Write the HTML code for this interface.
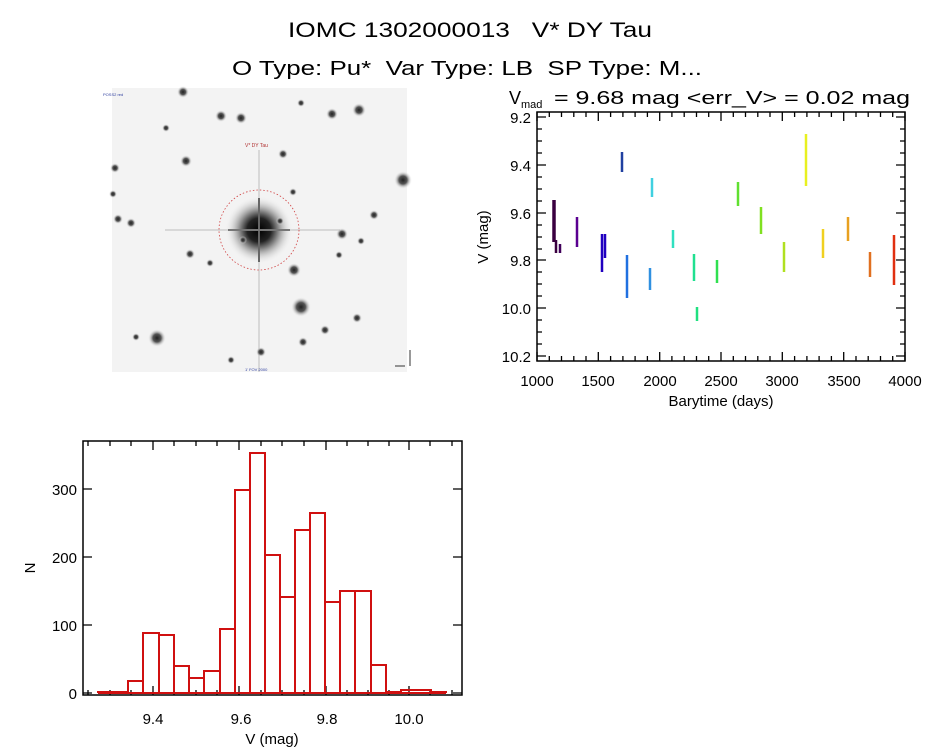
<!DOCTYPE html>
<html><head><meta charset="utf-8"><style>
html,body{margin:0;padding:0;background:#fff;}
svg{display:block;font-family:"Liberation Sans",sans-serif;}
text{white-space:pre;}
</style></head><body>
<svg width="944" height="747" viewBox="0 0 944 747" xmlns="http://www.w3.org/2000/svg" xml:space="preserve">
<defs>
<radialGradient id="st"><stop offset="0" stop-color="#222"/><stop offset="0.45" stop-color="#555"/><stop offset="1" stop-color="#f4f4f4" stop-opacity="0"/></radialGradient>
<radialGradient id="big"><stop offset="0" stop-color="#000"/><stop offset="0.35" stop-color="#222"/><stop offset="0.6" stop-color="#999"/><stop offset="1" stop-color="#f4f4f4" stop-opacity="0"/></radialGradient>
</defs>
<text x="470" y="37" font-size="21" text-anchor="middle" textLength="364" lengthAdjust="spacingAndGlyphs">IOMC 1302000013   V* DY Tau</text>
<text x="467" y="75" font-size="20" text-anchor="middle" textLength="470" lengthAdjust="spacingAndGlyphs">O Type: Pu*  Var Type: LB  SP Type: M...</text>

<!-- image -->
<rect x="112" y="88" width="295" height="284" fill="#f3f3f3"/>
<line x1="259" y1="150" x2="259" y2="372" stroke="#d8d8d8" stroke-width="2"/>
<line x1="165" y1="230" x2="340" y2="230" stroke="#d8d8d8" stroke-width="2"/>
<circle cx="259" cy="230" r="34" fill="url(#big)"/>
<line x1="259" y1="198" x2="259" y2="262" stroke="#666" stroke-width="2"/>
<line x1="228" y1="230" x2="290" y2="230" stroke="#777" stroke-width="2"/>
<circle cx="259" cy="230" r="40" fill="none" stroke="#d04040" stroke-width="0.8" stroke-dasharray="1.5,2"/>
<text x="245" y="147" font-size="5" fill="#b03030">V* DY Tau</text>
<g fill="url(#st)">
<circle cx="183" cy="92" r="6"/><circle cx="221" cy="116" r="6"/><circle cx="241" cy="118" r="6"/>
<circle cx="332" cy="114" r="6"/><circle cx="359" cy="110" r="7"/><circle cx="301" cy="103" r="4"/>
<circle cx="166" cy="128" r="4"/><circle cx="283" cy="154" r="5"/><circle cx="186" cy="161" r="6"/>
<circle cx="115" cy="168" r="5"/><circle cx="403" cy="180" r="9"/><circle cx="113" cy="194" r="4"/>
<circle cx="293" cy="192" r="4"/><circle cx="118" cy="219" r="5"/><circle cx="131" cy="223" r="5"/>
<circle cx="374" cy="215" r="5"/><circle cx="342" cy="234" r="6"/><circle cx="361" cy="241" r="4"/>
<circle cx="190" cy="254" r="5"/><circle cx="210" cy="263" r="4"/><circle cx="294" cy="270" r="7"/>
<circle cx="339" cy="255" r="4"/><circle cx="301" cy="307" r="10"/><circle cx="357" cy="318" r="5"/>
<circle cx="325" cy="330" r="5"/><circle cx="303" cy="342" r="5"/><circle cx="157" cy="338" r="9"/>
<circle cx="136" cy="337" r="4"/><circle cx="261" cy="352" r="5"/><circle cx="231" cy="360" r="4"/>
<circle cx="280" cy="221" r="4"/><circle cx="243" cy="240" r="4"/>
</g>
<text x="103" y="96" font-size="4" fill="#3040a0">POSS2 red</text>
<text x="245" y="371" font-size="4" fill="#3040a0">1' FOV 2000</text>
<line x1="410" y1="350" x2="410" y2="366" stroke="#333" stroke-width="1"/>
<line x1="395" y1="366" x2="405" y2="366" stroke="#333" stroke-width="1"/>

<!-- light curve -->
<text x="509" y="104" font-size="18">V</text>
<text x="521" y="108" font-size="11">mad</text>
<text x="547" y="104" font-size="18" textLength="363" lengthAdjust="spacingAndGlyphs"> = 9.68 mag &lt;err_V&gt; = 0.02 mag</text>
<rect x="537" y="112" width="368" height="249" fill="none" stroke="#000" stroke-width="1.5"/>
<g stroke="#000" stroke-width="1.3">
<path d="M537 361v-9M598.3 361v-9M659.7 361v-9M721 361v-9M782.3 361v-9M843.7 361v-9M905 361v-9M537 112v9M598.3 112v9M659.7 112v9M721 112v9M782.3 112v9M843.7 112v9M905 112v9"/>
<path d="M549.3 361v-5M561.5 361v-5M573.8 361v-5M586 361v-5M610.6 361v-5M622.9 361v-5M635.1 361v-5M647.4 361v-5M671.9 361v-5M684.2 361v-5M696.5 361v-5M708.7 361v-5M733.3 361v-5M745.5 361v-5M757.8 361v-5M770 361v-5M794.6 361v-5M806.9 361v-5M819.1 361v-5M831.4 361v-5M856 361v-5M868.2 361v-5M880.5 361v-5M892.7 361v-5"/>
<path d="M549.3 112v5M561.5 112v5M573.8 112v5M586 112v5M610.6 112v5M622.9 112v5M635.1 112v5M647.4 112v5M671.9 112v5M684.2 112v5M696.5 112v5M708.7 112v5M733.3 112v5M745.5 112v5M757.8 112v5M770 112v5M794.6 112v5M806.9 112v5M819.1 112v5M831.4 112v5M856 112v5M868.2 112v5M880.5 112v5M892.7 112v5"/>
<path d="M537 117h9M537 165h9M537 213h9M537 260h9M537 308h9M537 356h9M905 117h-9M905 165h-9M905 213h-9M905 260h-9M905 308h-9M905 356h-9"/>
<path d="M537 129h5M537 141h5M537 153h5M537 177h5M537 189h5M537 201h5M537 225h5M537 237h5M537 249h5M537 272h5M537 284h5M537 296h5M537 320h5M537 332h5M537 344h5"/>
<path d="M905 129h-5M905 141h-5M905 153h-5M905 177h-5M905 189h-5M905 201h-5M905 225h-5M905 237h-5M905 249h-5M905 272h-5M905 284h-5M905 296h-5M905 320h-5M905 332h-5M905 344h-5"/>
</g>
<g font-size="15" text-anchor="end">
<text x="531" y="123">9.2</text><text x="531" y="171">9.4</text><text x="531" y="219">9.6</text>
<text x="531" y="266">9.8</text><text x="531" y="314">10.0</text><text x="531" y="362">10.2</text>
</g>
<g font-size="15" text-anchor="middle">
<text x="537" y="386">1000</text><text x="598" y="386">1500</text><text x="660" y="386">2000</text>
<text x="721" y="386">2500</text><text x="782" y="386">3000</text><text x="844" y="386">3500</text>
<text x="905" y="386">4000</text>
<text x="721" y="406">Barytime (days)</text>
</g>
<text transform="translate(488,237) rotate(-90)" font-size="15" text-anchor="middle">V (mag)</text>
<g stroke-width="2.5">
<line x1="554" y1="200" x2="554" y2="242" stroke="#3a0040" stroke-width="3.5"/>
<line x1="556" y1="240" x2="556" y2="253" stroke="#3a0040"/>
<line x1="560" y1="244" x2="560" y2="253" stroke="#40005a"/>
<line x1="577" y1="217" x2="577" y2="247" stroke="#5a0090"/>
<line x1="602" y1="234" x2="602" y2="272" stroke="#2000c0"/>
<line x1="605" y1="234" x2="605" y2="258" stroke="#2000c0"/>
<line x1="622" y1="152" x2="622" y2="172" stroke="#2040a0"/>
<line x1="627" y1="255" x2="627" y2="298" stroke="#2070e0"/>
<line x1="650" y1="268" x2="650" y2="290" stroke="#3090e0"/>
<line x1="652" y1="178" x2="652" y2="197" stroke="#40d0e0"/>
<line x1="673" y1="230" x2="673" y2="248" stroke="#30e0c0"/>
<line x1="694" y1="254" x2="694" y2="281" stroke="#20e090"/>
<line x1="697" y1="307" x2="697" y2="321" stroke="#20e080"/>
<line x1="717" y1="260" x2="717" y2="283" stroke="#30e050"/>
<line x1="738" y1="182" x2="738" y2="206" stroke="#60e030"/>
<line x1="761" y1="207" x2="761" y2="234" stroke="#80e020"/>
<line x1="784" y1="242" x2="784" y2="272" stroke="#b0e020"/>
<line x1="806" y1="134" x2="806" y2="186" stroke="#e8f020"/>
<line x1="823" y1="229" x2="823" y2="258" stroke="#f0d020"/>
<line x1="848" y1="217" x2="848" y2="241" stroke="#e8a020"/>
<line x1="870" y1="252" x2="870" y2="277" stroke="#e07020"/>
<line x1="894" y1="235" x2="894" y2="285" stroke="#e03010"/>
</g>

<!-- histogram -->
<rect x="83" y="441" width="379" height="254" fill="none" stroke="#000" stroke-width="1.5"/>
<g stroke="#000" stroke-width="1.3">
<path d="M153 695v-9M239 695v-9M326 695v-9M409 695v-9M153 441v9M239 441v9M326 441v9M409 441v9"/>
<path d="M88 695v-5M110 695v-5M131 695v-5M174 695v-5M196 695v-5M217 695v-5M261 695v-5M282 695v-5M304 695v-5M347 695v-5M368 695v-5M389 695v-5M430 695v-5M452 695v-5"/>
<path d="M88 441v5M110 441v5M131 441v5M174 441v5M196 441v5M217 441v5M261 441v5M282 441v5M304 441v5M347 441v5M368 441v5M389 441v5M430 441v5M452 441v5"/>
<path d="M83 693h9M83 625h9M83 557h9M83 489h9M462 693h-9M462 625h-9M462 557h-9M462 489h-9"/>
</g>
<g font-size="15" text-anchor="end">
<text x="77" y="699">0</text><text x="77" y="631">100</text><text x="77" y="563">200</text><text x="77" y="495">300</text>
</g>
<g font-size="15" text-anchor="middle">
<text x="153" y="724">9.4</text><text x="241" y="724">9.6</text><text x="327" y="724">9.8</text><text x="409" y="724">10.0</text>
<text x="272" y="744">V (mag)</text>
</g>
<text transform="translate(35,568) rotate(-90)" font-size="15" text-anchor="middle">N</text>
<g fill="none" stroke="#d01010" stroke-width="2">
<path d="M98 693V692H113V692H128V681H143V633H159V635H174V666H189V678H204V671H220V629H235V490H250V453H265V555H280V597H295V530H310V513H325V602H340V591H355V591H371V665H386V692H401V690H416V690H431V692H446V693"/>
<path d="M128 693V681M143 693V633M159 693V635M174 693V666M189 693V678M204 693V671M220 693V629M235 693V490M250 693V453M265 693V555M280 693V597M295 693V530M310 693V513M325 693V602M340 693V591M355 693V591M371 693V665M386 693V692"/>
<path d="M98 693H446"/>
</g>
</svg>
</body></html>
